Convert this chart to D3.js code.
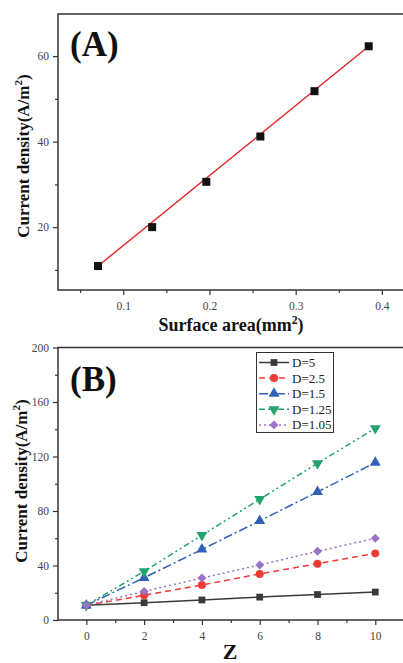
<!DOCTYPE html>
<html>
<head>
<meta charset="utf-8">
<script src="https://cdn.jsdelivr.net/npm/d3@7"></script>
<style>
  body { margin: 0; background: white; }
  svg { display: block; }
  text { font-family: "Liberation Serif", "DejaVu Serif", serif; }
</style>
</head>
<body>
<div id="chartdiv"></div>
<script>
/*global d3 */

////////////////////////////////////////
// data
////////////////////////////////////////

var areaVals = [0.0707, 0.1335, 0.1963, 0.259, 0.3218, 0.3847];
var densityVals = [10.9, 20.0, 30.6, 41.2, 51.8, 62.3];
var areaTicks = [0.1, 0.2, 0.3, 0.4];
var densityTicks = [20, 40, 60];

var zVals = [0, 2, 4, 6, 8, 10];
var seriesNames = ["D=5", "D=2.5", "D=1.5", "D=1.25", "D=1.05"];
var d5Vals = [10.8, 12.7, 14.7, 16.8, 18.7, 20.5];
var d25Vals = [10.8, 18.1, 25.7, 33.8, 41.3, 48.9];
var d15Vals = [10.8, 31.0, 51.8, 72.8, 94.0, 115.5];
var d125Vals = [10.8, 35.7, 62.2, 88.6, 115.0, 140.7];
var d105Vals = [10.8, 21.0, 30.8, 40.4, 50.4, 60.0];
var zTicks = [0, 2, 4, 6, 8, 10];
var densityTicksB = [0, 40, 80, 120, 160, 200];

(function () {
    "use strict";

    var W = 403, H = 663,
        axcolor = "#333",
        labcolor = "#444",
        svg, pa, pb, styles, series, legend;

    svg = d3.select("#chartdiv").append("svg")
        .attr("width", W).attr("height", H);

    ////////////////////////////////////////
    // helpers
    ////////////////////////////////////////

    function drawFrame (p) {
        svg.append("rect")
            .attr("x", p.left).attr("y", p.top)
            .attr("width", p.right - p.left).attr("height", p.bottom - p.top)
            .style("fill", "none").style("stroke", axcolor)
            .style("stroke-width", 1.5);
    }

    function drawAxes (p, xs, ys, xticks, yticks, xminor, yminor, xfmt) {
        var xg, yg;
        xg = svg.append("g")
            .attr("transform", "translate(0," + p.bottom + ")")
            .call(d3.axisBottom(xs).tickValues(xminor).tickSize(3)
                  .tickFormat(""));
        xg.append("g").call(d3.axisBottom(xs).tickValues(xticks)
                            .tickSize(5).tickPadding(7).tickFormat(xfmt));
        yg = svg.append("g")
            .attr("transform", "translate(" + p.left + ",0)")
            .call(d3.axisLeft(ys).tickValues(yminor).tickSize(3)
                  .tickFormat(""));
        yg.append("g").call(d3.axisLeft(ys).tickValues(yticks)
                            .tickSize(5).tickPadding(4));
        [xg, yg].forEach(function (g) {
            g.selectAll(".domain").remove();
            g.selectAll("line").style("stroke", axcolor)
                .style("stroke-width", 1.2);
            g.selectAll("text").style("fill", labcolor)
                .style("font-family", "'Liberation Serif', serif")
                .style("font-size", "11.5px"); });
    }

    function axisTitle (x, y, rot, size, main, sup, tail) {
        var t = svg.append("text")
            .attr("transform", "translate(" + x + "," + y + ") rotate(" +
                  rot + ")")
            .attr("text-anchor", "middle")
            .style("font-weight", "bold").style("font-size", size + "px")
            .style("fill", "#111")
            .text(main);
        if(sup) {
            t.append("tspan").attr("dy", -size * 0.4)
                .style("font-size", (size * 0.65) + "px").text(sup);
            t.append("tspan").attr("dy", size * 0.4).text(tail); }
    }

    function panelTag (x, y, txt) {
        svg.append("text").attr("x", x).attr("y", y)
            .style("font-weight", "bold").style("font-size", "35px")
            .style("fill", "#111").text(txt);
    }

    ////////////////////////////////////////
    // panel A
    ////////////////////////////////////////

    pa = {left: 58, top: 14, right: 412, bottom: 290};
    pa.x = d3.scaleLinear().domain([0.0243, 0.4349])
        .range([pa.left, pa.right]);
    pa.y = d3.scaleLinear().domain([5.3, 69.85])
        .range([pa.bottom, pa.top]);

    drawFrame(pa);
    drawAxes(pa, pa.x, pa.y, areaTicks, densityTicks,
             [0.05, 0.15, 0.25, 0.35], [10, 30, 50], d3.format(".1f"));

    svg.append("line")
        .attr("x1", pa.x(areaVals[0])).attr("y1", pa.y(densityVals[0]))
        .attr("x2", pa.x(areaVals[areaVals.length - 1]))
        .attr("y2", pa.y(densityVals[densityVals.length - 1]))
        .style("stroke", "#e02525").style("stroke-width", 1.4);

    svg.append("g").selectAll("rect")
        .data(areaVals)
        .join("rect")
        .attr("x", function (d) { return pa.x(d) - 4; })
        .attr("y", function (ignore, i) { return pa.y(densityVals[i]) - 4; })
        .attr("width", 8).attr("height", 8)
        .style("fill", "#111");

    panelTag(70, 56, "(A)");
    axisTitle(231, 331, 0, 18, "Surface area(mm", "2", ")");
    axisTitle(29, 156, -90, 17, "Current density(A/m", "2", ")");

    ////////////////////////////////////////
    // panel B
    ////////////////////////////////////////

    pb = {left: 58, top: 347.5, right: 412, bottom: 620};
    pb.x = d3.scaleLinear().domain([-0.98, 11.27])
        .range([pb.left, pb.right]);
    pb.y = d3.scaleLinear().domain([0, 200])
        .range([pb.bottom, pb.top]);

    drawFrame(pb);
    drawAxes(pb, pb.x, pb.y, zTicks, densityTicksB,
             [1, 3, 5, 7, 9, 11], [20, 60, 100, 140, 180], d3.format("d"));

    //diamond = square turned 45 degrees
    styles = [
        {color: "#3a3a3a", dash: null, sym: d3.symbolSquare, size: 46, rot: 0},
        {color: "#ee3b36", dash: "6,4", sym: d3.symbolCircle, size: 50,
         rot: 0},
        {color: "#2f62b8", dash: "9,3,2,3", sym: d3.symbolTriangle, size: 52,
         rot: 0},
        {color: "#23a36c", dash: "6,3,2,3,2,3", sym: d3.symbolTriangle,
         size: 52, rot: 180},
        {color: "#9b72c6", dash: "2,3", sym: d3.symbolSquare, size: 40,
         rot: 45}];
    series = [d5Vals, d25Vals, d15Vals, d125Vals, d105Vals];

    series.forEach(function (vals, si) {
        var st = styles[si],
            line = d3.line()
                .x(function (ignore, i) { return pb.x(zVals[i]); })
                .y(function (d) { return pb.y(d); });
        svg.append("path").datum(vals)
            .attr("d", line)
            .style("fill", "none").style("stroke", st.color)
            .style("stroke-width", 1.5)
            .style("stroke-dasharray", st.dash);
        svg.append("g").selectAll("path")
            .data(vals)
            .join("path")
            .attr("d", d3.symbol().type(st.sym).size(st.size))
            .attr("transform", function (d, i) {
                return "translate(" + pb.x(zVals[i]) + "," + pb.y(d) +
                    ") rotate(" + st.rot + ")"; })
            .style("fill", st.color);
    });

    //legend
    legend = svg.append("g");
    legend.append("rect")
        .attr("x", 256.5).attr("y", 352.5).attr("width", 77).attr("height", 80)
        .style("fill", "white").style("stroke", axcolor)
        .style("stroke-width", 1);
    seriesNames.forEach(function (name, i) {
        var st = styles[i], ly = 362.5 + i * 15.6;
        legend.append("line")
            .attr("x1", 259).attr("x2", 289).attr("y1", ly).attr("y2", ly)
            .style("stroke", st.color).style("stroke-width", 1.5)
            .style("stroke-dasharray", st.dash);
        legend.append("path")
            .attr("d", d3.symbol().type(st.sym).size(st.size))
            .attr("transform", "translate(274," + ly + ") rotate(" +
                  st.rot + ")")
            .style("fill", st.color);
        legend.append("text")
            .attr("x", 292).attr("y", ly + 4.5)
            .style("font-size", "13px").style("fill", "#222")
            .text(name);
    });

    panelTag(70, 391, "(B)");
    axisTitle(230, 659, 0, 22, "Z");
    axisTitle(27, 481, -90, 17, "Current density(A/m", "2", ")");
}());
</script>
</body>
</html>
